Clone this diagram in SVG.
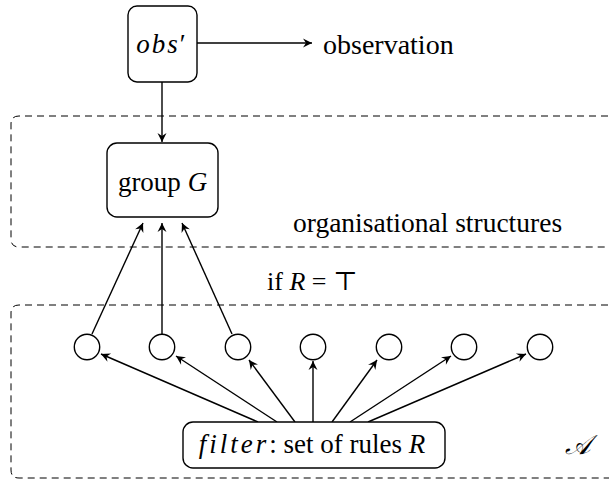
<svg xmlns="http://www.w3.org/2000/svg" width="609" height="479" viewBox="0 0 609 479" font-family="'Liberation Serif', 'DejaVu Serif', serif">
<style>
text{font-family:'Liberation Serif','DejaVu Serif',serif;font-size:27px;fill:#000}
.it{font-style:italic}
.box{fill:#fff;stroke:#000;stroke-width:1.4}
.region{fill:none;stroke:#000;stroke-width:1;stroke-dasharray:7 5}
.c{fill:#fff;stroke:#000;stroke-width:1.4}
.e{stroke:#000;stroke-width:1.4;fill:none;marker-end:url(#ah)}
</style>
<defs>
<marker id="ah" markerUnits="userSpaceOnUse" markerWidth="14" markerHeight="12" viewBox="-10 -6 12 12" refX="0" refY="0" orient="auto">
<path d="M0,0 L-9,-4.5 L-6,0 L-9,4.5 Z" fill="#000"/>
</marker>
</defs>
<rect width="609" height="479" fill="#fff"/>
<g id="region-org">
<path class="region" d="M620,116 H19 Q11,116 11,124 V239 Q11,247 19,247 H620"/>
<text x="293" y="232" style="font-size:27.5px">organisational structures</text>
</g>
<g id="region-agents">
<path class="region" d="M620,305 H19 Q11,305 11,313 V470 Q11,478 19,478 H620"/>
<text x="565" y="454" style="font-family:'Liberation Serif','DejaVu Serif',serif;font-size:27px;font-style:italic">𝒜</text>
</g>
<g id="connectors">
<line class="e" x1="197" y1="43" x2="312" y2="43"/>
<line class="e" x1="162" y1="82" x2="162" y2="142"/>
<line class="e" x1="92" y1="334" x2="143" y2="223"/>
<line class="e" x1="162" y1="334" x2="162" y2="223"/>
<line class="e" x1="232" y1="334" x2="182" y2="223"/>
<line class="e" x1="258" y1="422" x2="101" y2="354"/>
<line class="e" x1="277" y1="422" x2="176" y2="356"/>
<line class="e" x1="295" y1="422" x2="249" y2="360"/>
<line class="e" x1="313" y1="422" x2="313" y2="361"/>
<line class="e" x1="332" y1="422" x2="377" y2="360"/>
<line class="e" x1="350" y1="422" x2="451" y2="356"/>
<line class="e" x1="368" y1="422" x2="526" y2="354"/>
</g>
<g id="obs">
<rect class="box" x="128" y="6" width="69" height="76" rx="9"/>
<text x="161" y="53" text-anchor="middle"><tspan class="it" letter-spacing="2">obs</tspan>′</text>
</g>
<text id="observation" x="323" y="54" style="font-size:28px">observation</text>
<g id="group">
<rect class="box" x="107" y="143" width="111" height="74" rx="10"/>
<text x="162.5" y="191" text-anchor="middle">group <tspan class="it">G</tspan></text>
</g>
<text id="cond" x="267" y="290" style="font-size:26px">if <tspan class="it">R</tspan> = ⊤</text>
<g id="agents">
<circle class="c" cx="87" cy="347" r="12.7"/>
<circle class="c" cx="162" cy="347" r="12.7"/>
<circle class="c" cx="238" cy="347" r="12.7"/>
<circle class="c" cx="313" cy="347" r="12.7"/>
<circle class="c" cx="389" cy="347" r="12.7"/>
<circle class="c" cx="464" cy="347" r="12.7"/>
<circle class="c" cx="540" cy="347" r="12.7"/>
</g>
<g id="filter">
<rect class="box" x="183" y="422" width="262" height="46" rx="10"/>
<text x="312" y="453" text-anchor="middle"><tspan class="it" letter-spacing="3">filter</tspan>: set of rules <tspan class="it">R</tspan></text>
</g>
</svg>
